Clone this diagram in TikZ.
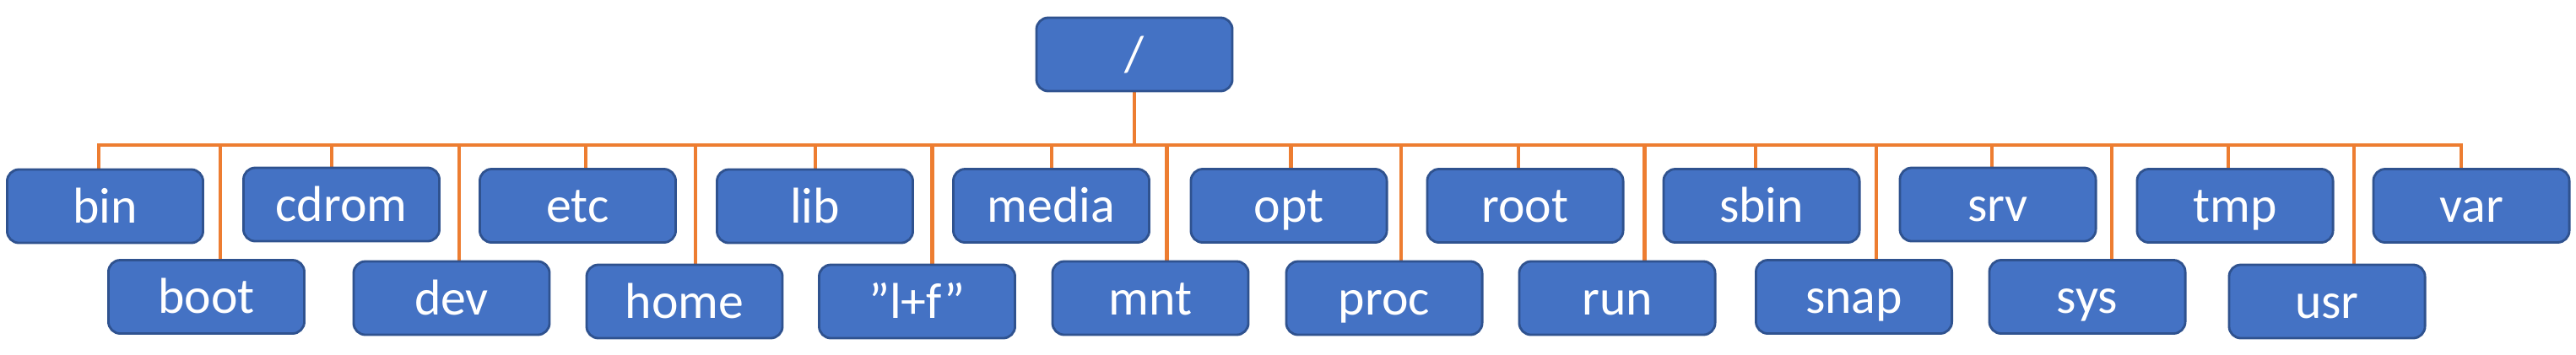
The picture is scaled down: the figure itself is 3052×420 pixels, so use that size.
\documentclass[tikz,border=0pt]{standalone}
\usepackage{fontspec}
\setmainfont{Carlito}
\usetikzlibrary{backgrounds}
\definecolor{boxfill}{HTML}{4472C4}
\definecolor{boxline}{HTML}{2F528F}
\definecolor{linkc}{HTML}{ED7D31}
\begin{document}
\begin{tikzpicture}[x={(0.01cm,0)}, y={(0,-0.01cm)},
  dirbox/.style={draw=boxline, fill=boxfill, line width=0.8pt, rounded corners=0.14cm,
    minimum width=2.32cm, minimum height=0.87cm, inner sep=0pt, text=white,
    font=\fontsize{17}{20}\selectfont, text height=11.2pt, text depth=0pt},
  link/.style={draw=linkc, line width=1.3pt}]
\useasboundingbox (0,0) rectangle (3052,420);
% root
\node[dirbox] (root-dir) at (1344,64.5) {/};
% top row
\node[dirbox] (bin) at (124.5,244.5) {bin};
\node[dirbox] (cdrom) at (404.5,242.5) {cdrom};
\node[dirbox] (etc) at (684.5,244) {etc};
\node[dirbox] (lib) at (965.5,244.5) {lib};
\node[dirbox] (media) at (1245.5,244) {media};
\node[dirbox] (opt) at (1527,244) {opt};
\node[dirbox] (root) at (1807,244) {root};
\node[dirbox] (sbin) at (2087,244) {sbin};
\node[dirbox] (srv) at (2367,242.5) {srv};
\node[dirbox] (tmp) at (2648,244) {tmp};
\node[dirbox] (var) at (2928,244) {var};
% bottom row
\node[dirbox] (boot) at (244.5,352) {boot};
\node[dirbox] (dev) at (535,353.5) {dev};
\node[dirbox] (home) at (811,357.5) {home};
\node[dirbox] (lf) at (1086.5,357.5) {”l+f”};
\node[dirbox] (mnt) at (1363,353.5) {mnt};
\node[dirbox] (proc) at (1640,353.5) {proc};
\node[dirbox] (run) at (1916,353.5) {run};
\node[dirbox] (snap) at (2196.5,352) {snap};
\node[dirbox] (sys) at (2473,352) {sys};
\node[dirbox] (usr) at (2757,357.5) {usr};
% bus coordinates
\coordinate (b-root) at (1344,172);
\coordinate (b-bin) at (117,172);
\coordinate (b-boot) at (261,172);
\coordinate (b-cdrom) at (393,172);
\coordinate (b-dev) at (544,172);
\coordinate (b-etc) at (694,172);
\coordinate (b-home) at (824,172);
\coordinate (b-lib) at (966,172);
\coordinate (b-lf) at (1104.6,172);
\coordinate (b-media) at (1246,172);
\coordinate (b-mnt) at (1382.6,172);
\coordinate (b-opt) at (1529.6,172);
\coordinate (b-proc) at (1660,172);
\coordinate (b-root2) at (1799,172);
\coordinate (b-run) at (1948.5,172);
\coordinate (b-sbin) at (2080,172);
\coordinate (b-snap) at (2223,172);
\coordinate (b-srv) at (2360,172);
\coordinate (b-sys) at (2502,172);
\coordinate (b-tmp) at (2640,172);
\coordinate (b-usr) at (2789,172);
\coordinate (b-var) at (2916,172);
\begin{scope}[on background layer]
\draw[link] (root-dir.south) -- (b-root);
\draw[link] (b-bin |- bin.north) -- (b-bin) -- (b-var) -- (b-var |- var.north);
\foreach \n/\c in {boot/b-boot, cdrom/b-cdrom, dev/b-dev, etc/b-etc, home/b-home,
  lib/b-lib, lf/b-lf, media/b-media, mnt/b-mnt, opt/b-opt, proc/b-proc, root/b-root2,
  run/b-run, sbin/b-sbin, snap/b-snap, srv/b-srv, sys/b-sys, tmp/b-tmp, usr/b-usr}
  \draw[link] (\c) -- (\c |- \n.north);
\end{scope}
\end{tikzpicture}
\end{document}
